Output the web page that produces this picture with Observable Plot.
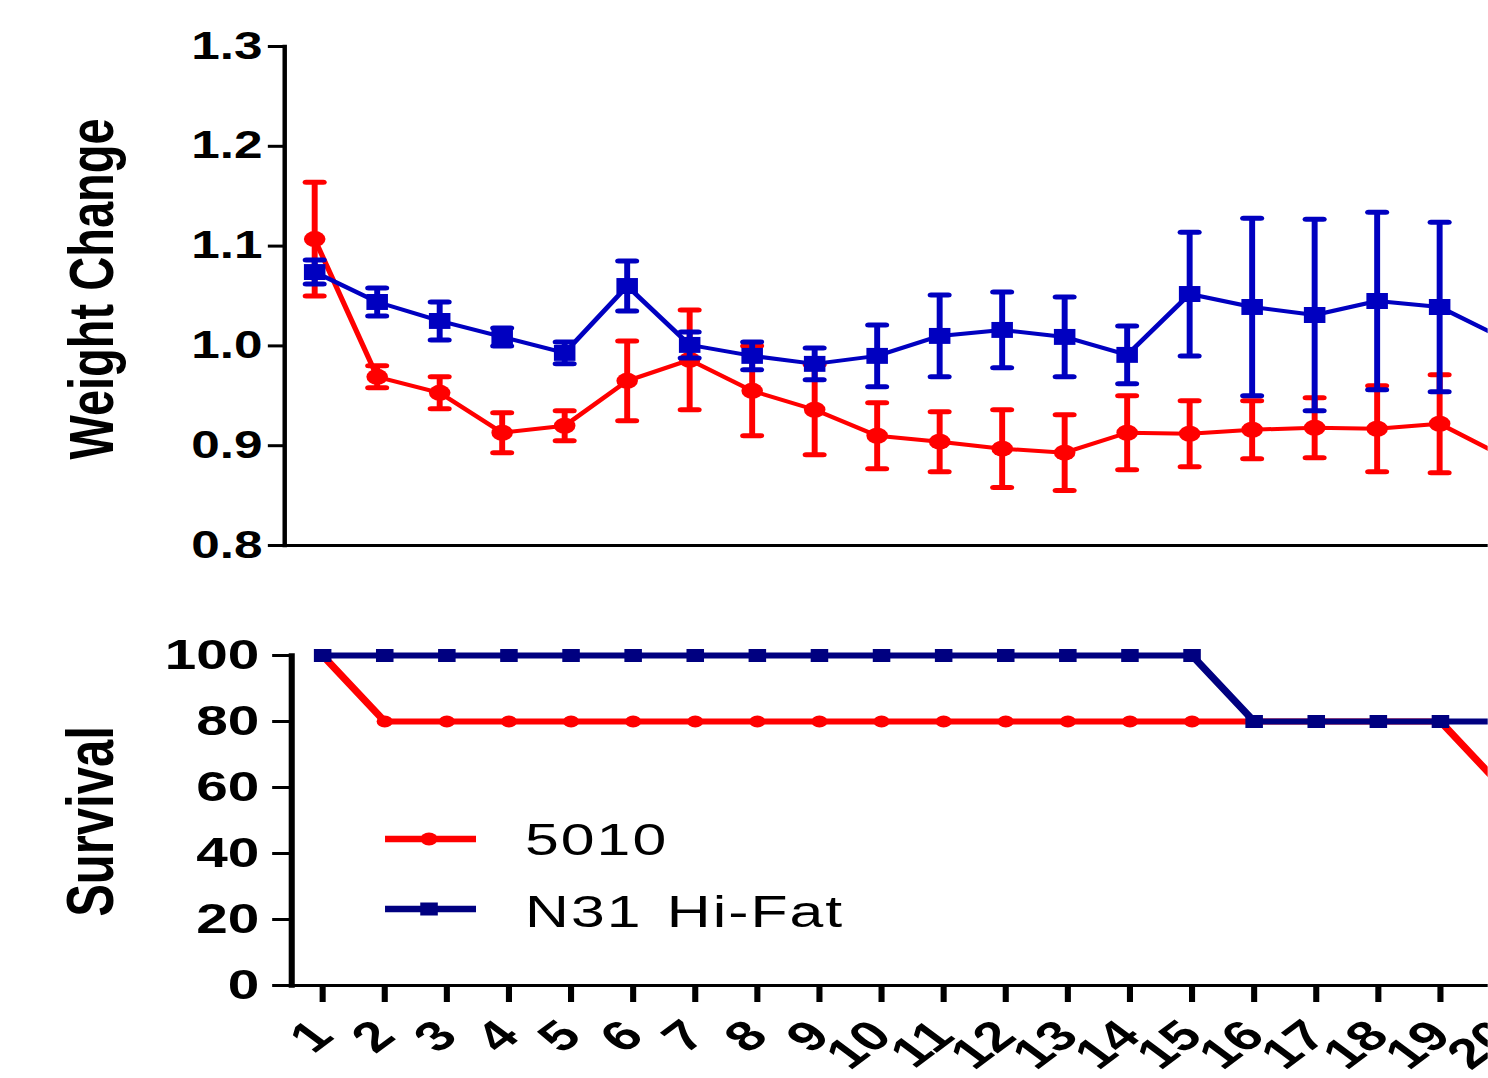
<!DOCTYPE html>
<html><head><meta charset="utf-8">
<script src="https://cdn.jsdelivr.net/npm/d3@7"></script>
<script src="https://cdn.jsdelivr.net/npm/@observablehq/plot@0.6"></script>
<style>
html,body{margin:0;padding:0;background:#fff;overflow:hidden;}
#wrap{position:relative;width:1102px;height:1078px;transform:scaleX(1.35);transform-origin:0 0;}
#wrap svg{display:block;}
#legend{position:absolute;left:0;top:0;pointer-events:none;}
</style></head><body><div id="wrap"></div>
<script>
// ---- data ----
const days = [1,2,3,4,5,6,7,8,9,10,11,12,13,14,15,16,17,18,19,20];
const seriesNames = ["5010", "N31 Hi-Fat"];
const redWeight = [1.107,0.969,0.953,0.913,0.920,0.965,0.986,0.955,0.936,0.910,0.904,0.897,0.893,0.913,0.912,0.916,0.918,0.917,0.922,0.890];
const redErr    = [0.057,0.011,0.016,0.020,0.015,0.040,0.050,0.045,0.045,0.033,0.030,0.039,0.038,0.037,0.033,0.029,0.030,0.043,0.049,0.040];
const blueWeight = [1.074,1.044,1.025,1.009,0.993,1.060,1.001,0.990,0.982,0.990,1.010,1.016,1.009,0.991,1.052,1.039,1.031,1.045,1.039,1.008];
const blueErr    = [0.012,0.014,0.019,0.009,0.011,0.025,0.013,0.014,0.016,0.031,0.041,0.038,0.040,0.029,0.062,0.089,0.096,0.089,0.085,0.080];
const redSurvival  = [100,80,80,80,80,80,80,80,80,80,80,80,80,80,80,80,80,80,80,60];
const blueSurvival = [100,100,100,100,100,100,100,100,100,100,100,100,100,100,100,80,80,80,80,80];
const weightTicks = [0.8,0.9,1.0,1.1,1.2,1.3];
const survivalTicks = [0,20,40,60,80,100];

// ---- style ----
const RED = "#ff0000", BLUE_TOP = "#0000c0", BLUE_BOT = "#000080";
const FONT = "Liberation Sans, Arial, Helvetica, sans-serif";
const W = 1102;

const wt = (vals, errs) => days.map((d,i) => ({day: d, v: vals[i], lo: vals[i]-errs[i], hi: vals[i]+errs[i]}));
const redW = wt(redWeight, redErr), blueW = wt(blueWeight, blueErr);
const surv = vals => days.map((d,i) => ({day: d, v: vals[i]}));
const redS = surv(redSurvival), blueS = surv(blueSurvival);

const capSymbol = {draw(ctx, size){ const w = Math.sqrt(size/Math.PI); ctx.moveTo(-w,0); ctx.lineTo(w,0); }};

function errMarks(data, color){
  return [
    Plot.ruleX(data, {x: "day", y1: "lo", y2: "hi", stroke: color, strokeWidth: 4.4}),
    Plot.dot(data, {x: "day", y: "hi", symbol: capSymbol, r: 6.4, stroke: color, fill: "none", strokeWidth: 5, strokeLinecap: "round"}),
    Plot.dot(data, {x: "day", y: "lo", symbol: capSymbol, r: 6.4, stroke: color, fill: "none", strokeWidth: 5, strokeLinecap: "round"})
  ];
}

const topPlot = Plot.plot({
  width: W, height: 580, marginTop: 46, marginBottom: 35, marginLeft: 210.4, marginRight: 0,
  x: {domain: [1,20], range: [232.6, 1112.2], axis: null},
  y: {domain: [0.8,1.3], axis: null},
  style: {fontFamily: FONT, color: "black", background: "white"},
  marks: [
    Plot.axisY({ticks: weightTicks, tickFormat: d => d.toFixed(1), tickSize: 12, tickPadding: 4.5,
      fontSize: 38, fontWeight: "bold", strokeWidth: 3, label: null}),
    Plot.frame({anchor: "left", strokeWidth: 3.3}),
    Plot.frame({anchor: "bottom", strokeWidth: 3}),
    Plot.text(["Weight Change"], {text: d => d, frameAnchor: "left", textAnchor: "middle", dx: -142, dy: -7, rotate: -90,
      fontSize: 47, fontWeight: "bold"}),
    ...errMarks(redW, RED),
    Plot.line(redW, {x: "day", y: "v", stroke: RED, strokeWidth: 4}),
    Plot.dot(redW, {x: "day", y: "v", r: 8, fill: RED, symbol: "circle"}),
    ...errMarks(blueW, BLUE_TOP),
    Plot.line(blueW, {x: "day", y: "v", stroke: BLUE_TOP, strokeWidth: 4}),
    Plot.dot(blueW, {x: "day", y: "v", r: 9, fill: BLUE_TOP, symbol: "square"})
  ]
});

const botPlot = Plot.plot({
  width: W, height: 498, marginTop: 75, marginBottom: 93, marginLeft: 215.6, marginRight: 0,
  x: {domain: [1,20], range: [238.5, 1112.5]},
  y: {domain: [0,100]},
  style: {fontFamily: FONT, color: "black", background: "white"},
  marks: [
    Plot.axisY({ticks: survivalTicks, tickSize: 14, tickPadding: 10, fontSize: 42, fontWeight: "bold",
      strokeWidth: 3, label: null}),
    Plot.axisX({ticks: days, tickFormat: d => String(d), tickSize: 17, tickPadding: 26, tickRotate: -45,
      fontSize: 42, fontWeight: "bold", strokeWidth: 4.5, label: null}),
    Plot.frame({anchor: "left", strokeWidth: 4.5}),
    Plot.frame({anchor: "bottom", strokeWidth: 3}),
    Plot.text(["Survival"], {text: d => d, frameAnchor: "left", textAnchor: "middle", dx: -148, dy: 1, rotate: -90,
      fontSize: 49, fontWeight: "bold"}),
    Plot.line(redS, {x: "day", y: "v", stroke: RED, strokeWidth: 6}),
    Plot.dot(redS, {x: "day", y: "v", r: 6, fill: RED, symbol: "circle"}),
    Plot.line(blueS, {x: "day", y: "v", stroke: BLUE_BOT, strokeWidth: 6}),
    Plot.dot(blueS, {x: "day", y: "v", r: 7.33, fill: BLUE_BOT, symbol: "square"})
  ]
});

const wrap = document.getElementById("wrap");
wrap.appendChild(topPlot);
wrap.appendChild(botPlot);

// ---- legend ----
const leg = d3.select(wrap).append("svg").attr("id","legend").attr("width", W).attr("height", 1078);
const legItems = [
  {name: seriesNames[0], color: RED, sym: "circle", y: 839, ty: 855},
  {name: seriesNames[1], color: BLUE_BOT, sym: "square", y: 909, ty: 927}
];
for (const it of legItems){
  leg.append("line").attr("x1",285.2).attr("x2",352.6).attr("y1",it.y).attr("y2",it.y)
    .attr("stroke",it.color).attr("stroke-width",6.5);
  if (it.sym === "circle") leg.append("circle").attr("cx",317.8).attr("cy",it.y).attr("r",6.5).attr("fill",it.color);
  else leg.append("rect").attr("x",317.8-6.5).attr("y",it.y-6.5).attr("width",13).attr("height",13).attr("fill",it.color);
  leg.append("text").attr("x",388.9).attr("y",it.ty).text(it.name)
    .attr("font-family",FONT).attr("font-size",45).attr("letter-spacing","1.5px").attr("word-spacing","4px").attr("fill","black");
}
</script></body></html>
